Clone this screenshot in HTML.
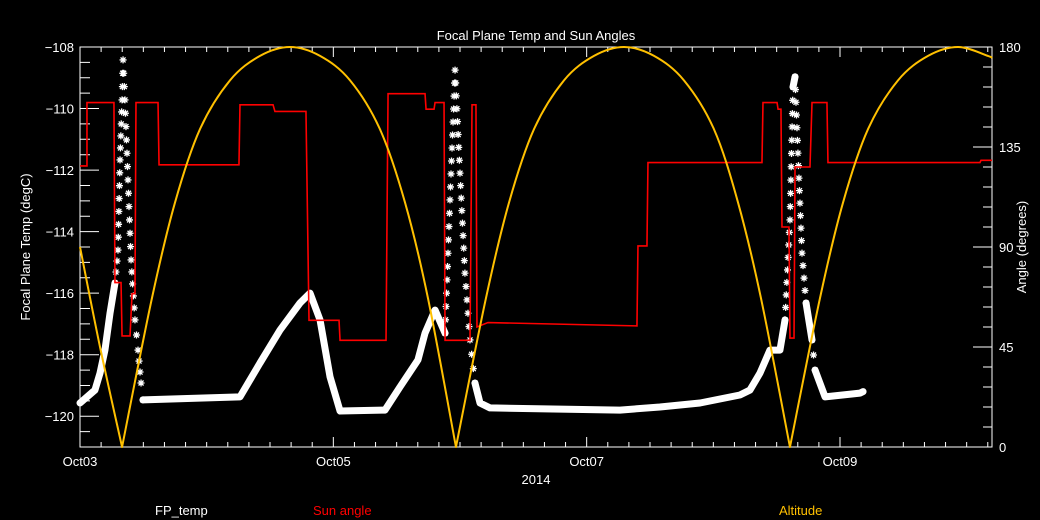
<!DOCTYPE html>
<html><head><meta charset="utf-8"><style>
html,body{margin:0;padding:0;background:#000;}
svg{display:block;}
text{font-family:"Liberation Sans",sans-serif;font-size:13px;}
</style></head><body>
<svg id="chart" width="1040" height="520" viewBox="0 0 1040 520" xmlns="http://www.w3.org/2000/svg">
<rect width="1040" height="520" fill="#000"/>
<text x="536" y="40" fill="#fff" text-anchor="middle" font-size="14">Focal Plane Temp and Sun Angles</text>
<g id="axes"></g>
<g id="series"></g>
<text x="536" y="484" fill="#fff" text-anchor="middle">2014</text>
<text transform="translate(30,247) rotate(-90)" fill="#fff" text-anchor="middle">Focal Plane Temp (degC)</text>
<text transform="translate(1026,247) rotate(-90)" fill="#fff" text-anchor="middle">Angle (degrees)</text>
<text x="155" y="515" fill="#fff">FP_temp</text>
<text x="313" y="515" fill="#ff0000">Sun angle</text>
<text x="779" y="515" fill="#ffc000">Altitude</text>
</svg>
<script>
// time in days since Oct03 00:00
const altT=[0,0.158,0.332,0.568,0.75,0.947,1.184,1.421,1.658,1.895,2.132,2.368,2.566,2.747,2.968,3.205,3.387,3.584,3.821,4.058,4.295,4.532,4.768,5.005,5.195,5.376,5.605,5.842,6.024,6.221,6.458,6.695,6.932,7.168,7.2];
const altV=[90,45,0,67,110,143,165,176,180,176,165,143,110,67,0,67,110,143,165,176,180,176,165,143,110,67,0,67,110,143,165,176,180,176,175];
const sunT=[0,0.055,0.055,0.268,0.276,0.324,0.332,0.395,0.411,0.434,0.442,0.616,0.624,1.255,1.263,1.524,1.539,1.784,1.808,2.045,2.053,2.416,2.432,2.724,2.732,2.795,2.803,2.874,2.882,3.079,3.095,3.126,3.134,3.221,4.397,4.405,4.476,4.484,5.384,5.392,5.503,5.511,5.534,5.542,5.597,5.605,5.637,5.645,5.763,5.779,5.897,5.905,7.105,7.113,7.2];
const sunV=[126.5,126.5,155,155,74,74,50,50,69,69,155,155,127,127,154,154,151,151,57,57,48,48,159,159,152,152,155,155,48,48,154,154,54,56,54.5,90.5,90.5,128,128,155,155,152,152,99,99,49,49,126,126,155,155,128,128,129,129];
const fpT=[0,0.118,0.158,0.197,0.237,0.276,0.3,0.316,0.332,0.34,0.355,0.379,0.403,0.434,0.458,0.482,0.497,1.263,1.421,1.579,1.737,1.816,1.895,1.974,2.053,2.408,2.526,2.668,2.724,2.803,2.882,2.921,2.961,3.0,3.039,3.079,3.118,3.158,3.237,4.263,4.579,4.895,5.21,5.289,5.368,5.447,5.526,5.566,5.605,5.629,5.645,5.668,5.7,5.732,5.779,5.803,5.882,6.158,6.182];
const fpV=[-119.57,-119.15,-118.6,-117.85,-116.65,-115.67,-114.6,-111.67,-109.72,-108.42,-109.72,-112.32,-114.92,-116.87,-117.85,-118.92,-119.47,-119.37,-118.27,-117.2,-116.32,-116.0,-116.87,-118.72,-119.83,-119.8,-119.05,-118.17,-117.3,-116.55,-117.3,-112.97,-108.75,-112.1,-115.35,-117.52,-118.92,-119.57,-119.73,-119.8,-119.7,-119.57,-119.31,-119.15,-118.6,-117.85,-117.85,-116.87,-113.62,-109.3,-108.97,-111.45,-114.7,-116.32,-117.52,-118.5,-119.37,-119.25,-119.2];
const xLabels=["Oct03","Oct05","Oct07","Oct09"];
const xLabelDays=[0,2,4,6];
const leftTicks=[-120,-118,-116,-114,-112,-110,-108];
const rightTicks=[0,45,90,135,180];

const L=80,R=992,T=47,B=447,DAYS=7.2;
const X=t=>L+t/DAYS*(R-L);
const YL=v=>B-(v+121)/13*(B-T);
const YR=v=>B-v/180*(B-T);
const NS="http://www.w3.org/2000/svg";
function mk(tag,attrs,parent){const e=document.createElementNS(NS,tag);for(const k in attrs)e.setAttribute(k,attrs[k]);parent.appendChild(e);return e;}
const ax=document.getElementById('axes'), se=document.getElementById('series');
let frame=mk('rect',{x:L,y:T,width:R-L,height:B-T,fill:'none',stroke:'#fff','stroke-width':1},ax);


let tp='';
for(let h=0;h<=DAYS*24+0.01;h+=4){const x=X(h/24);const maj=(h%48===0);const len=maj?10:5;tp+=`M${x},${B}v${-len}M${x},${T}v${len}`;}
for(let v=-121;v<=-108;v+=0.5){const y=YL(v);const maj=(Math.abs(v%2)===0);tp+=`M${L},${y}h${maj?19:10}`;}
for(let v=0;v<=180;v+=9){const y=YR(v);const maj=(v%45===0);tp+=`M${R},${y}h${maj?-19:-9}`;}
let ticks=mk('path',{d:tp,stroke:'#fff','stroke-width':1,fill:'none'},ax);


xLabels.forEach((s,i)=>{const t=mk('text',{x:X(xLabelDays[i]),y:466,fill:'#fff','text-anchor':'middle'},ax);t.textContent=s;

});
leftTicks.forEach(v=>{const t=mk('text',{x:74,y:YL(v)+5,fill:'#fff','text-anchor':'end'},ax);t.textContent=String(v).replace('-','\u2212');

});
rightTicks.forEach(v=>{const t=mk('text',{x:999,y:YR(v)+5,fill:'#fff'},ax);t.textContent=v;

});

// FP temp: thick band for gentle segments, asterisks for very steep excursions
let band='', stars='';
for(let i=0;i<fpT.length-1;i++){
  const x1=X(fpT[i]),y1=YL(fpV[i]),x2=X(fpT[i+1]),y2=YL(fpV[i+1]);
  const dx=x2-x1,dy=y2-y1;
  if(Math.abs(dy)>7.5*Math.abs(dx)&&Math.abs(dy)>15){
    const len=Math.hypot(dx,dy);const n=Math.max(1,Math.round(len/13));
    for(let k=0;k<=n;k++){const f=k/n;const cx=x1+dx*f,cy=y1+dy*f;
      stars+=`M${cx-3.5},${cy}h7M${cx},${cy-3.5}v7M${cx-2.5},${cy-2.5}l5,5M${cx-2.5},${cy+2.5}l5,-5`;}
  } else band+=`M${x1},${y1}L${x2},${y2}`;
}
let fpBand=mk('path',{d:band,fill:'none',stroke:'#fff','stroke-width':7,'stroke-linecap':'round','stroke-linejoin':'round'},se);


let fpStars=mk('path',{d:stars,fill:'none',stroke:'#fff','stroke-width':1.3},se);



// Sun angle
let sunPts=sunT.map((t,i)=>X(t)+','+YR(sunV[i])).join(' ');
let sunLine=mk('polyline',{points:sunPts,fill:'none',stroke:'#ff0000','stroke-width':1.6},se);



// Altitude: smooth (Catmull-Rom) within each arch, sharp at zeros
const ap=altT.map((t,i)=>[X(t),YR(altV[i])]);
let ad=`M${ap[0][0]},${ap[0][1]}`;
for(let i=0;i<ap.length-1;i++){
  const p1=ap[i],p2=ap[i+1];
  const p0=(i>0&&altV[i]!==0)?ap[i-1]:p1;
  const p3=(i+2<ap.length&&altV[i+1]!==0)?ap[i+2]:p2;
  const c1=[p1[0]+(p2[0]-p0[0])/6,p1[1]+(p2[1]-p0[1])/6];
  const c2=[p2[0]-(p3[0]-p1[0])/6,p2[1]-(p3[1]-p1[1])/6];
  ad+=`C${c1[0]},${c1[1]} ${c2[0]},${c2[1]} ${p2[0]},${p2[1]}`;
}
let altLine=mk('path',{d:ad,fill:'none',stroke:'#ffc000','stroke-width':2,'stroke-linejoin':'round'},se);


</script>
</body></html>
